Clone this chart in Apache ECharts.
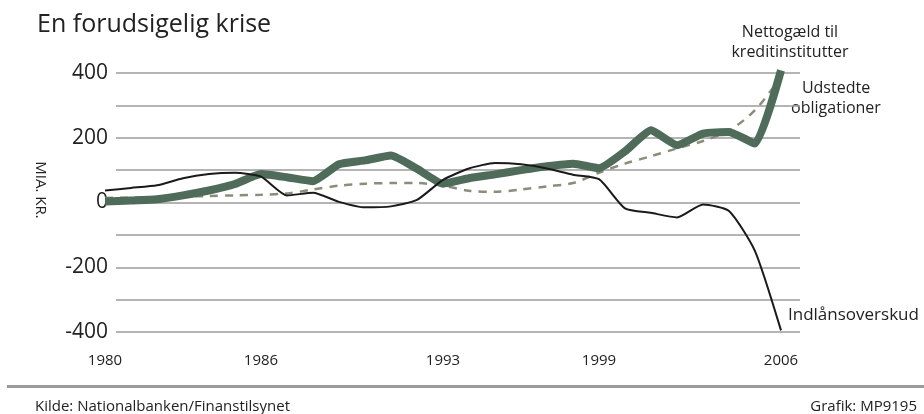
<!DOCTYPE html>
<html>
<head>
<meta charset="utf-8">
<script src="https://cdn.jsdelivr.net/npm/echarts@6/dist/echarts.min.js"></script>
<style>
  html, body { margin: 0; padding: 0; background: #fff; }
  #chart { width: 924px; height: 414px; }
</style>
</head>
<body>
<div id="chart"></div>
<script>
// år 1980-2006
const years = ['1980', '1981', '1982', '1983', '1984', '1985', '1986', '1987', '1988', '1989',
  '1990', '1991', '1992', '1993', '1994', '1995', '1996', '1997', '1998', '1999',
  '2000', '2001', '2002', '2003', '2004', '2005', '2006'];
const shownYears = ['1980', '1986', '1993', '1999', '2006'];

// mia. kr.
const nettogaeld = [3, 6, 10, 22, 37, 57, 88, 78, 66, 118, 130, 145, 104, 58,
  75, 87, 100, 112, 120, 106, 158, 223, 177, 213, 218, 182, 408];
const obligationer = [14, 15, 16, 18, 20, 22, 24, 28, 40, 52, 58, 60, 60, 52,
  36, 33, 40, 50, 60, 92, 120, 143, 167, 190, 222, 285, 388];
const indlaan = [37, 45, 53, 75, 88, 92, 80, 22, 30, 2, -15, -12, 8, 70,
  105, 122, 118, 105, 86, 72, -18, -32, -46, -6, -26, -150, -395];

const yTicks = [-400, -200, 0, 200, 400];

const font = '"Open Sans", "Noto Sans", sans-serif';
const ink = '#222';
const chart = echarts.init(document.getElementById('chart'));

const option = {
  backgroundColor: '#fff',
  animation: false,
  textStyle: { fontFamily: font },
  grid: [
    { left: 116, right: 124, top: 73, bottom: 82 },
    { left: 105, width: 676, top: 73, bottom: 82 },
  ],
  xAxis: [
    { gridIndex: 0, type: 'value', show: false, min: 0, max: 1 },
    {
      gridIndex: 1,
      type: 'category',
      data: years,
      boundaryGap: false,
      axisLine: { show: false },
      axisTick: { show: false },
      axisLabel: {
        interval: (i, v) => shownYears.includes(v),
        color: ink,
        fontSize: 15,
        margin: 21,
        fontFamily: font,
      },
      splitLine: { show: false },
    },
  ],
  yAxis: [
    {
      gridIndex: 0,
      type: 'value',
      min: -400,
      max: 400,
      interval: 100,
      axisLine: { show: false },
      axisTick: { show: false },
      axisLabel: {
        color: ink,
        fontSize: 21,
        margin: 8,
        fontFamily: font,
        formatter: v => (yTicks.includes(v) ? String(v) : ''),
      },
      splitLine: { lineStyle: { color: '#9b9b9b', width: 1.5 } },
    },
    { gridIndex: 1, type: 'value', min: -400, max: 400, show: false },
  ],
  series: [
    {
      name: 'Udstedte obligationer',
      type: 'line',
      xAxisIndex: 1,
      yAxisIndex: 1,
      data: obligationer,
      smooth: 0.3,
      symbol: 'none',
      clip: false,
      lineStyle: { color: '#8a8e78', width: 2.5, type: [8, 7] },
    },
    {
      name: 'Nettogæld til kreditinstitutter',
      type: 'line',
      xAxisIndex: 1,
      yAxisIndex: 1,
      data: nettogaeld,
      smooth: 0.15,
      symbol: 'none',
      clip: false,
      lineStyle: { color: '#4f6b5a', width: 8, join: 'round' },
    },
    {
      name: 'Indlånsoverskud',
      type: 'line',
      xAxisIndex: 1,
      yAxisIndex: 1,
      data: indlaan,
      smooth: 0.2,
      symbol: 'none',
      clip: false,
      lineStyle: { color: '#1a1a1a', width: 2 },
    },
  ],
  graphic: [
    {
      type: 'text', left: 37, top: 12,
      style: { text: 'En forudsigelig krise', font: '25px ' + font, fill: ink },
    },
    {
      type: 'text', x: 40, y: 190, rotation: -Math.PI / 2,
      style: { text: 'MIA. KR.', font: '15px ' + font, fill: ink, align: 'center', verticalAlign: 'middle' },
    },
    {
      type: 'text', x: 790, y: 42,
      style: { text: 'Nettogæld til\nkreditinstitutter', font: '16px ' + font, fill: ink, align: 'center', verticalAlign: 'middle', lineHeight: 20 },
    },
    {
      type: 'text', x: 836, y: 98,
      style: { text: 'Udstedte\nobligationer', font: '16px ' + font, fill: ink, align: 'center', verticalAlign: 'middle', lineHeight: 20 },
    },
    {
      type: 'text', x: 788, y: 315,
      style: { text: 'Indlånsoverskud', font: '17px ' + font, fill: ink, verticalAlign: 'middle' },
    },
    {
      type: 'rect', shape: { x: 7, y: 385, width: 917, height: 3 },
      style: { fill: '#9a9a9a' },
    },
    {
      type: 'text', x: 35, y: 407,
      style: { text: 'Kilde: Nationalbanken/Finanstilsynet', font: '15px ' + font, fill: ink, verticalAlign: 'middle' },
    },
    {
      type: 'text', x: 917, y: 407,
      style: { text: 'Grafik: MP9195', font: '15px ' + font, fill: ink, align: 'right', verticalAlign: 'middle' },
    },
  ],
};

chart.setOption(option);
</script>
</body>
</html>
